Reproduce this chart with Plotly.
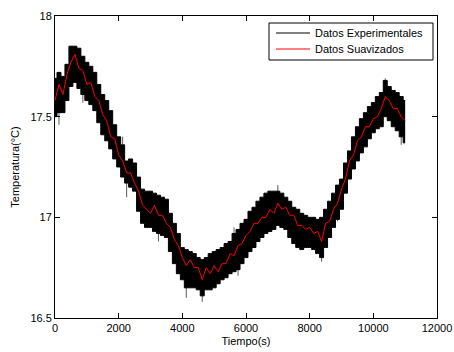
import plotly.graph_objects as go

# sampling times (s), every 125 s from 0 to 11000
tiempo = list(range(0, 11001, 125))

# smoothed curve (red)
suavizado = [17.58, 17.66, 17.61, 17.71, 17.77, 17.81, 17.74, 17.73, 17.66, 17.67,
             17.60, 17.58, 17.51, 17.48, 17.40, 17.39, 17.31, 17.28, 17.22, 17.22,
             17.17, 17.13, 17.06, 17.04, 17.02, 17.06, 17.01, 17.01, 16.97, 16.95,
             16.89, 16.86, 16.80, 16.76, 16.79, 16.75, 16.75, 16.69, 16.75, 16.72,
             16.76, 16.73, 16.77, 16.77, 16.82, 16.81, 16.86, 16.87, 16.91, 16.93,
             16.97, 16.97, 17.00, 17.00, 17.04, 17.02, 17.07, 17.04, 17.05, 17.01,
             17.01, 16.96, 16.96, 16.94, 16.95, 16.92, 16.93, 16.88, 16.97, 16.98,
             17.04, 17.07, 17.14, 17.19, 17.28, 17.31, 17.38, 17.40, 17.45, 17.45,
             17.49, 17.50, 17.54, 17.60, 17.58, 17.54, 17.54, 17.50, 17.48]

# upper envelope of experimental data (black)
exp_alto = [17.69, 17.72, 17.70, 17.76, 17.85, 17.85, 17.84, 17.80, 17.77, 17.75,
            17.72, 17.66, 17.61, 17.58, 17.53, 17.46, 17.40, 17.36, 17.28, 17.29,
            17.27, 17.20, 17.14, 17.13, 17.13, 17.12, 17.11, 17.10, 17.09, 17.02,
            16.97, 16.92, 16.85, 16.84, 16.83, 16.82, 16.80, 16.79, 16.80, 16.82,
            16.83, 16.84, 16.85, 16.87, 16.88, 16.92, 16.94, 16.97, 16.99, 17.03,
            17.05, 17.08, 17.10, 17.12, 17.13, 17.13, 17.13, 17.12, 17.10, 17.08,
            17.05, 17.04, 17.02, 17.01, 17.00, 17.00, 16.99, 17.00, 17.04, 17.08,
            17.12, 17.16, 17.19, 17.27, 17.33, 17.40, 17.45, 17.49, 17.52, 17.55,
            17.57, 17.60, 17.62, 17.68, 17.65, 17.63, 17.62, 17.60, 17.58]

# lower envelope of experimental data (black)
exp_bajo = [17.50, 17.52, 17.52, 17.58, 17.65, 17.67, 17.64, 17.61, 17.58, 17.56,
            17.53, 17.47, 17.41, 17.38, 17.34, 17.29, 17.25, 17.20, 17.17, 17.15,
            17.13, 17.03, 16.97, 16.95, 16.95, 16.93, 16.92, 16.91, 16.90, 16.83,
            16.77, 16.72, 16.69, 16.65, 16.65, 16.65, 16.64, 16.61, 16.64, 16.64,
            16.65, 16.67, 16.69, 16.70, 16.72, 16.73, 16.74, 16.77, 16.80, 16.83,
            16.85, 16.88, 16.90, 16.92, 16.93, 16.94, 16.96, 16.95, 16.94, 16.90,
            16.87, 16.85, 16.84, 16.85, 16.85, 16.84, 16.82, 16.80, 16.85, 16.90,
            16.95, 16.99, 17.04, 17.12, 17.19, 17.24, 17.28, 17.32, 17.35, 17.39,
            17.42, 17.44, 17.45, 17.50, 17.48, 17.45, 17.43, 17.40, 17.37]

# isolated spikes of the experimental data (time, temperature)
pico_t = [125, 875, 1375, 2125, 2250, 3250, 4125, 4625, 5625, 5750, 7000, 8375, 8875, 10375, 10875]
pico_T = [17.46, 17.57, 17.48, 17.40, 17.10, 16.88, 16.60, 16.58, 16.95, 16.71, 17.16, 16.78, 16.98, 17.69, 17.36]

x_ticks = [0, 2000, 4000, 6000, 8000, 10000, 12000]
y_ticks = [16.5, 17, 17.5, 18]
y_labels = ["16.5", "17", "17.5", "18"]
series_names = ["Datos Experimentales", "Datos Suavizados"]
series_colors = ["black", "#ff0000"]

FONT = "Liberation Sans, Arial, sans-serif"

fig = go.Figure()

# spikes as thin grey segments from the smoothed value
sx, sy = [], []
for t, T in zip(pico_t, pico_T):
    i = tiempo.index(t)
    sx += [t, t, None]
    sy += [suavizado[i], T, None]
fig.add_trace(go.Scatter(x=sx, y=sy, mode="lines", line=dict(color="#5a5a5a", width=1),
                         showlegend=False, hoverinfo="skip"))

fig.add_trace(go.Scatter(x=tiempo, y=exp_alto, mode="lines", name=series_names[0],
                         line=dict(color=series_colors[0], width=1, shape="hvh"),
                         showlegend=False))
fig.add_trace(go.Scatter(x=tiempo, y=exp_bajo, mode="lines", fill="tonexty",
                         fillcolor="black", line=dict(color="black", width=1, shape="hvh"),
                         showlegend=False))
fig.add_trace(go.Scatter(x=tiempo, y=suavizado, mode="lines", name=series_names[1],
                         line=dict(color=series_colors[1], width=1), showlegend=False))

axis_common = dict(showline=True, linecolor="black", linewidth=1, mirror="allticks",
                   ticks="inside", ticklen=5, tickcolor="black", showgrid=False,
                   zeroline=False, automargin=False,
                   tickfont=dict(family=FONT, size=11, color="black"))

fig.update_xaxes(range=[0, 12000], tickvals=x_ticks, ticktext=[str(v) for v in x_ticks],
                 title=dict(text="Tiempo(s)", font=dict(family=FONT, size=11, color="black"),
                            standoff=4),
                 **axis_common)
fig.update_yaxes(range=[16.5, 18], tickvals=y_ticks, ticktext=y_labels,
                 title=dict(text="Temperatura(°C)", font=dict(family=FONT, size=11, color="black"),
                            standoff=8),
                 **axis_common)

# manual legend box in MATLAB style (paper coordinates)
W, H = 382.0, 302.0
def px(xp):
    return (xp - 55) / W
def py(yp):
    return 1 - (yp - 16) / H

shapes = [dict(type="rect", xref="paper", yref="paper", x0=px(269), x1=px(433),
               y0=py(60), y1=py(23), line=dict(color="black", width=1), fillcolor="white",
               layer="above")]
annotations = []
for k, (nm, col) in enumerate(zip(series_names, series_colors)):
    yy = 33 + 16 * k
    shapes.append(dict(type="line", xref="paper", yref="paper", x0=px(276), x1=px(310),
                       y0=py(yy), y1=py(yy), line=dict(color=col, width=1), layer="above"))
    annotations.append(dict(xref="paper", yref="paper", x=px(313), y=py(yy), text=nm,
                            showarrow=False, xanchor="left", yanchor="middle",
                            font=dict(family=FONT, size=11, color="black")))

fig.update_layout(
    width=454, height=352,
    margin=dict(l=55, r=17, t=16, b=34),
    plot_bgcolor="white", paper_bgcolor="white",
    font=dict(family=FONT, size=11, color="black"),
    showlegend=False,
    shapes=shapes, annotations=annotations,
)

fig.write_html("out.html")
